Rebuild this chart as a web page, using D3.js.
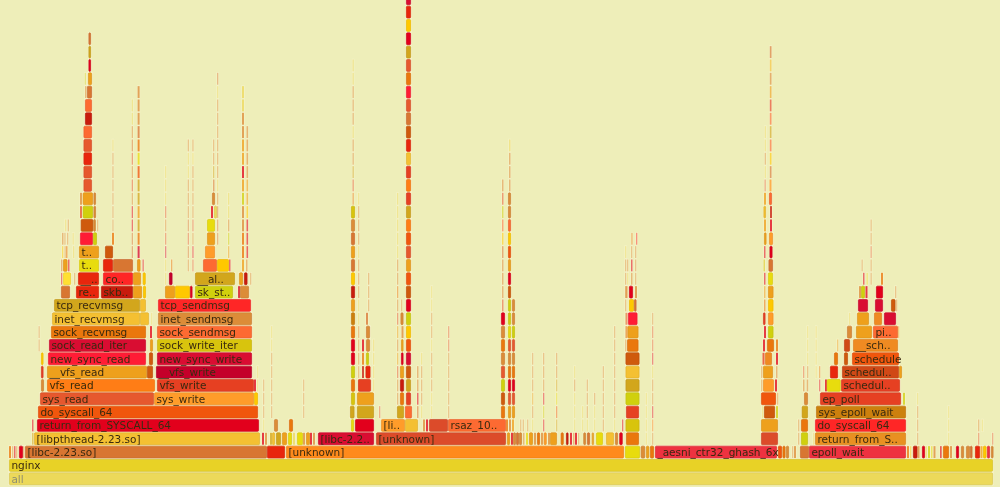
<!DOCTYPE html>
<html><head><meta charset="utf-8">
<style>html,body{margin:0;padding:0;background:#eeeeb9;overflow:hidden}svg{display:block}</style>
<script src="https://cdnjs.cloudflare.com/ajax/libs/d3/7.8.5/d3.min.js"></script>
</head><body><div id="chart"></div>
<script>
const totalSamples = 984;
const heatCodes = "ABCDEFGHIJKLMNOPQRSTUVWXYZabcdefgh".split("");
const heatColors = ["#ff1f35","#d90c30","#c4062c","#e2061c","#ff7d12","#eea01c","#f4c030","#d87632","#ea770c","#e6582e","#f0560c","#d2a61c","#d8c40e","#ff2828","#dc8c38","#fd6a30","#e63f22","#ff9c2a","#e8dc10","#dc4c2c","#ff8a1a","#ee3040","#cc8010","#ffc800","#d0d010","#e8280a","#cf5a0a","#c81e10","#ffe030","#e8d228","#ecd95a","#e89020","#d04a18","#ef8a20"];
// [depth, start, samples, heat, name]
const namedFrames = [
[0,0,984,"e","all"],[1,0,984,"d","nginx"],
[2,16,242,"H","[libc-2.23.so]"],[2,258,18,"Z",""],[2,277,338,"U","[unknown]"],[2,616,15,"S",""],[2,646,122,"V","_aesni_ctr32_ghash_6x"],[2,800,97,"V","epoll_wait"],
[3,25,226,"G","[libpthread-2.23.so]"],[3,309,56,"B","[libc-2.2.."],[3,367,130,"T","[unknown]"],[3,806,91,"f","return_from_S.."],
[4,28,222,"D","return_from_SYSCALL_64"],[4,372,24,"R","[li.."],[4,439,58,"P","rsaz_10.."],[4,806,91,"N","do_syscall_64"],
[5,29,220,"K","do_syscall_64"],[5,807,90,"W","sys_epoll_wait"],
[6,31,114,"J","sys_read"],[6,145,100,"R","sys_write"],[6,811,81,"Q","ep_poll"],
[7,38,108,"E","vfs_read"],[7,148,97,"Q","vfs_write"],[7,832,59,"Q","schedul.."],
[8,38,100,"F","__vfs_read"],[8,147,96,"C","__vfs_write"],[8,833,57,"g","schedul.."],
[9,39,98,"A","new_sync_read"],[9,148,95,"B","new_sync_write"],[9,843,47,"K","schedule"],
[10,40,97,"B","sock_read_iter"],[10,148,95,"M","sock_write_iter"],[10,844,45,"h","__sch.."],
[11,42,95,"I","sock_recvmsg"],[11,148,95,"P","sock_sendmsg"],[11,864,25,"P","pi.."],
[12,43,88,"G","inet_recvmsg"],[12,149,94,"O","inet_sendmsg"],
[13,45,86,"L","tcp_recvmsg"],[13,149,93,"N","tcp_sendmsg"],
[14,67,23,"Z","re.."],[14,92,32,"b","skb.."],[14,186,38,"Y","sk_st.."],
[15,69,21,"Z","__.."],[15,94,30,"N","co.."],[15,186,40,"L","__al.."],
[16,70,20,"S","t.."],[17,70,20,"F","t.."]
];
// [start, samples, firstDepth, heats bottom-up]
const leftStacks = [
[74.5,8.5,22,"JJZJP"],[76,7,27,"bP"],[78,5,29,"H"],[79,4,30,"F"],[79.5,2.5,31,"DLH"],[73.7,10.3,20,"YF"],[71.7,12.6,19,"a"],[71,13,18,"A"],[84,4,18,"Y"],
[71,2,20,"JO"],[84.5,2.5,20,"OO"],[84.3,2.5,19,"O"],[88,1,19,"O"],[75.7,0.8,30,"Y"],[76,1.5,29,"O"],
[52,9,14,"H"],[52,1.2,15,"D"],[54,8,15,"c"],[65,1,15,"O"],[52,1.3,16,"H"],[54,4.5,16,"F"],[59,1.5,16,"D"],
[53,1.2,17,"X"],[55.5,1,17,"O"],[57,1.5,17,"I"],[64,1.2,17,"e"],[53,1.5,18,"O"],[55.3,1,18,"O"],[58,1,18,"O"],[63.5,1,18,"e"],[56,1,19,"e"],[58.7,1,19,"O"],
[96,8,17,"a"],[128.6,2,17,"BILFLLKSIHOOO"],[122.7,1.3,17,"HHDDOJOJHOee"],
[94,10,16,"Z"],[104,20,16,"H"],[128,3.5,16,"F"],[133.5,1.2,16,"D"],[124,8,15,"F"],[133.7,3,15,"X"],[124,9,14,"F"],[134,3,14,"X"],
[103,2,18,"I"],[103.3,0.9,19,"OOOOOOe"],
[29.5,0.8,10,"OO"],[32,2.5,9,"X"],[32,2.5,8,"Q"],[32,3,7,"O"],[140,4,9,"a"],[138,6,8,"a"],[141,3,10,"F"],[141,2,11,"D"],[142,0.8,12,"e"],[131,9,12,"G"],[131,6,13,"G"]
];
const rightOfLeft = [
[156,1,15,"eeBJOJeee"],[162,1.3,16,"I"],[160,3.5,15,"C"],[178.7,1,16,"OHJHOOOeeO"],[183.3,1,16,"JDOJOOOOeO"],
[196,10,17,"R"],[198,8,18,"F"],[198,8,19,"S"],[202,2,20,"D"],[205,3,20,"e"],[203,3,21,"O"],[204,1.5,22,"H"],[204,1.2,23,"L"],[204,1,24,"O"],[204,1,25,"O"],
[208,1,18,"HHHOeOOOOOOeH"],[194,14,16,"P"],[208,12,16,"X"],[220,1.5,16,"D"],
[230,4,15,"F"],[235,3.5,15,"b"],[241,1,15,"O"],[156,10,14,"F"],[166,15,14,"X"],[181,2.5,14,"D"],[229,2.2,14,"D"],[231,9,14,"O"],
[219,1.3,17,"FYOee"],[233,2,16,"FIIOOYFDFFOOee"],[237.5,1.6,17,"DDDXFFOOOO"],[237,1.5,16,"O"],
[245,2,7,"D"],[245,4,6,"X"],[248,0.8,7,"ee"],[254,0.8,4,"eOOO"],[262,0.8,5,"OOOOOee"],[294,0.8,5,"OOO"],[265,4,4,"O"],[280,4,4,"I"],
[253,2,3,"D"],[256,2,3,"O"],[261,2,3,"L"],[263,3,3,"G"],[267,5,3,"L"],[273,5,3,"F"],[279,4,3,"S"],[284,2,3,"e"],[288,6,3,"S"],[294,2,3,"O"],[297,4,3,"F"],[301,2,3,"D"],[304,2,3,"O"],
[0,2,2,"I"],[3,1,2,"O"],[5,1.5,2,"D"],[7,1,2,"O"],[10,4,2,"D"],[14,1,2,"O"],[23,1.5,3,"L"],[23,1.5,4,"D"]
];
const middleStacks = [
[342,3,4,"S"],[346,19,4,"D"],[341,4.5,5,"L"],[348,17,5,"L"],[370,1,5,"J"],
[342,4,6,"MIYDDIWFbXHFHOM"],[343.5,1.3,21,"IJLOOeOOOee"],[349,1,6,"OOOOOOeeOOOeOOOe"],
[348,17,6,"F"],[349,13,7,"Q"],[353,2,8,"b"],[356.5,5,8,"Z"],[353,2,9,"I"],[357,3,9,"Y"],[353,2,10,"D"],[357,4,10,"O"],[357,4,11,"O"],[357,2,12,"H"],[359,1,13,"O"],[359,1,14,"O"],[359,1,15,"O"],[364,1,7,"eeee"],
[388,1.2,6,"OOJFOFJOIOOeeeee"],[388,7,5,"L"],[391,4,6,"I"],[391,4,7,"b"],[391,4,8,"F"],[392,2.5,9,"D"],[392,2.5,10,"F"],[392.5,2,11,"O"],[391.5,3,12,"O"],[392,1,13,"O"],
[397,5,6,"QLaBKXYDaKFJKELQEQGZaHJAIJLDXZB"],[396,7,5,"P"],[396,13,4,"G"],
[408,1.5,5,"HDOO"],[412,1,5,"eOOOe"],[422,0.8,5,"eeOOOeOOee"],[439,0.9,5,"OOOOOJJ"],[414,2,4,"O"],[417,2,4,"D"],[420,19,4,"T"],
[492,4,5,"IaYJOIOD"],[493,1.5,13,"JOOOHXPYJO"],[499,3,5,"FJDIOJSYYaDFKXPOO"],[500,1.5,22,"OOOe"],[503,3,5,"FJDIOJYOO"],[497,2,4,"I"],[500,2,4,"O"],[503,2,4,"F"],
[498,3,3,"F"],[502,2,3,"D"],[504,3,3,"O"],[507,3,3,"H"],[510,3,3,"O"],[514,1.5,3,"O"],[517,2,3,"S"],[520,4,3,"F"],[525,2,3,"O"],[528,3,3,"I"],[532,2,3,"O"],[534.7,3,3,"R"],[539,2,3,"O"],[541,7,3,"F"],[551.7,3,3,"I"],[557,2.5,3,"b"],[561,2,3,"D"],[564,1.5,3,"O"],[566,2,3,"D"],[569,1,3,"O"],[574.3,2.7,3,"O"],[578,3,3,"H"],[582.7,2.3,3,"F"],[587,7,3,"S"],[597,8,3,"G"],[606,3,3,"O"],[610.3,3.4,3,"D"],[617,13,3,"I"],
[523,0.9,4,"eOFOOO"],[534,1,4,"DYDOOO"],[547,1,4,"LKSLOO"],[565,0.9,4,"eeeOe"],[577.7,0.9,4,"eOOO"],[573,0.9,4,"ee"],[585,0.9,4,"eeO"],[593.7,0.9,4,"OOOOO"],[605,0.9,4,"eOOOOOOO"],[511,0.8,4,"O"],[513.7,0.8,4,"O"],[518,0.8,4,"O"]
];
const towerStacks = [
[613,1.3,4,"D"],[616.5,14,4,"M"],[617,13,5,"Q"],[616.5,14,6,"YLGa"],[618,11.5,10,"I"],[618.5,11,11,"F"],[619,9.5,12,"A"],[620,5,13,"X"],[625,2.5,13,"H"],[620,4,14,"D"],[626,2,14,"O"],[622,1.5,15,"O"],[626,1,15,"O"],[622,1.5,16,"D"],[626,1,16,"O"],[622,1,17,"O"],[626,1,17,"O"],[622.3,1.2,18,"I"],[627,1.2,18,"N"],
[616,1,10,"OOOOOOOe"],[617,1.5,11,"IJ"],[616.5,2,14,"O"],[618,1,15,"e"],[618,1,16,"O"],[643,0.9,3,"OEDOOeDJJO"],[636.7,0.8,3,"eeee"],[631.7,4.5,2,"O"],[637,3.3,2,"F"],[641,4,2,"I"],
[752,17,3,"T"],[752,17,4,"F"],[755,11,5,"a"],[753,1,5,"e"],[767,2,5,"Y"],[752,15,6,"K"],[768,1,6,"O"],[754,11,7,"R"],[752,1,7,"O"],[766,2,7,"D"],[754,10,8,"F"],[752,1,8,"O"],[767,1.5,8,"O"],[756,7,9,"h"],[753.5,2,9,"Q"],[767,2,9,"D"],[758,7,10,"I"],[754,2,10,"D"],[767,2,10,"I"],
[759,5.5,11,"YRXF"],[755,2,11,"D"],[754,2.5,12,"Q"],[755,1.5,13,"IFD"],[759,5,15,"S"],[759.5,4.5,16,"H"],[754.5,1.5,16,"M"],[760.5,3,17,"D"],[755,1.5,17,"D"],[760,4,18,"R"],[755,2.5,18,"F"],[761,2,19,"Db"],[755,2,19,"F"],[754.5,2.5,20,"G"],[760,3,21,"P"],[755,2,21,"F"],[760.5,2,22,"R"],[755.5,1,22,"J"],[760.8,1.7,23,"HXPLPQFOGH"],[755.7,1,23,"eOee"]
];
const rightStacks = [
[769,4,2,"K"],[773.5,3,2,"I"],[777,3,2,"O"],[783,1,2,"O"],[785,2,2,"O"],[791,9,2,"H"],
[789,1,3,"OO"],[792,7,3,"Y"],[804,1,3,"e"],[792,7,4,"I"],[792.7,6.3,5,"L"],[795,4,6,"O"],[794,1.5,7,"O"],[797.7,1.5,7,"O"],[794,1,8,"J"],[798,1,8,"O"],[798,0.8,9,"eee"],[806.5,0.8,8,"eeee"],[810,1,7,"DI"],
[816,2,7,"D"],[817.7,14,7,"S"],[821,8,8,"Z"],[825,4,9,"I"],[835,4,9,"a"],[828,1,10,"F"],[835,6,10,"g"],[838,5,11,"O"],[847,16,11,"F"],[889,1,11,"F"],[890,3,8,"F"],[894,2,6,"Y"],
[848,12,12,"F"],[865,8,12,"h"],[875,12,12,"B"],[840,1,12,"e"],[849,10,13,"B"],[866,8,13,"B"],[882,4.5,13,"a"],[887,1,13,"O"],[850,2,14,"O"],[852,4,14,"Y"],[856.5,2,14,"D"],[867,7,14,"D"],[886,1,14,"O"],
[854,1.5,15,"D"],[857.5,1,15,"S"],[861.5,1,15,"O"],[872,2,15,"I"],[852.5,0.9,16,"O"],[861.5,0.9,16,"OJOO"],
[898,2,2,"I"],[901,1,2,"X"],[904,4.5,2,"b"],[908.5,2,2,"O"],[913,3,2,"D"],[916.5,1.5,2,"e"],[919,2,2,"Y"],[922,1.5,2,"S"],[924.5,2,2,"O"],[931,1.7,2,"D"],[934,6,2,"I"],[941,2,2,"O"],[947,3,2,"D"],[952,3,2,"O"],[957,4,2,"O"],[961,2.5,2,"H"],[966,5,2,"Z"],[971.5,2,2,"F"],[974,3.5,2,"X"],[978,3,2,"V"],[982,2.5,2,"O"],
[908,0.9,3,"OOOe"],[939,0.8,3,"eee"],[969,1,3,"JO"],[972.7,0.8,4,"e"],[983,0.9,3,"J"]
];

const W = 1000, H = 487;
const x = d3.scaleLinear().domain([0, totalSamples]).range([9, 993]);
const y = d3.scaleLinear().domain([0, 1]).range([472.6, 472.6 - 13.333]);
const heat = d3.scaleOrdinal(heatCodes, heatColors);
const sliverOpacity = d3.scaleLinear().domain([0.8, 1.5, 2.5]).range([0.38, 0.55, 1]).clamp(true);

const frames = namedFrames.map(([depth, start, samples, code, name]) => ({depth, start, samples, code, name}));
[leftStacks, rightOfLeft, middleStacks, towerStacks, rightStacks].forEach(group => {
  group.forEach(([start, samples, first, codes]) => {
    codes.split("").forEach((code, i) => frames.push({depth: first + i, start, samples, code, name: ""}));
  });
});

const svg = d3.select("#chart").append("svg").attr("width", W).attr("height", H);
const defs = svg.append("defs");
defs.append("filter").attr("id", "soft").attr("x", "0").attr("y", "0").attr("width", "100%").attr("height", "100%")
  .append("feGaussianBlur").attr("stdDeviation", 0.5);
svg.append("rect").attr("width", W).attr("height", H).attr("fill", "#eeeeb9");
const g = svg.append("g").attr("filter", "url(#soft)");
g.append("rect").attr("width", W).attr("height", H).attr("fill", "#eeeeb9");

const span = d => x(d.samples) - x(0);
// pale halo behind every frame: the light seams between neighbouring boxes
g.append("g").selectAll("rect").data(frames).join("rect")
  .attr("x", d => x(d.start) - 0.6)
  .attr("y", d => y(d.depth) - 0.6)
  .attr("width", d => Math.max(span(d), 1.3) + 1.2)
  .attr("height", 13.3)
  .attr("fill", "#f8f5d2")
  .attr("opacity", d => d.samples > 3 ? 0.9 : 0.6);

const nodes = g.append("g").selectAll("g.frame").data(frames).join("g").attr("class", "frame")
  .attr("transform", d => `translate(${x(d.start)},${y(d.depth)})`);
nodes.append("rect")
  .attr("x", d => d.samples > 2 ? 0.4 : 0)
  .attr("y", 0.2)
  .attr("rx", d => d.samples > 2 ? 1 : 0)
  .attr("width", d => d.samples > 2 ? span(d) - 0.8 : Math.max(span(d), 1.3))
  .attr("height", 11.9)
  .attr("fill", d => heat(d.code))
  .attr("opacity", d => sliverOpacity(d.samples))
  .attr("stroke", d => d.samples > 2 ? d3.color(heat(d.code)).darker(0.25) : "none")
  .attr("stroke-width", 0.7);
nodes.filter(d => d.name).append("text")
  .attr("x", 2.4).attr("y", 10)
  .attr("font-family", "'DejaVu Sans', sans-serif")
  .attr("font-size", 10.5)
  .attr("fill", d => d.name === "all" ? "#8f8f70" : "#3a2a10")
  .text(d => d.name);
</script></body></html>
